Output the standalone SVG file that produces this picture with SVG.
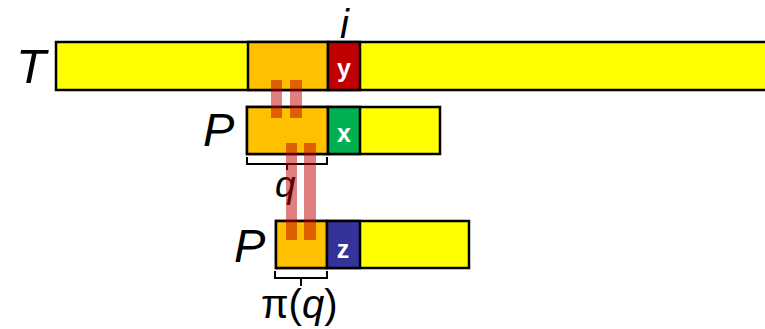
<svg xmlns="http://www.w3.org/2000/svg" width="765" height="329" viewBox="0 0 765 329">
<style>
.seg{stroke:#000;stroke-width:2.5}
.yel{fill:#FFFF00}
.org{fill:#FFC000}
.lbl{font-family:"Liberation Sans",Arial,sans-serif;font-style:italic;fill:#000}
.ch{font-family:"Liberation Sans",Arial,sans-serif;font-weight:bold;fill:#fff;font-size:25px;text-anchor:middle}
.br{fill:none;stroke:#000;stroke-width:2}
.mk{fill:#C00000;fill-opacity:0.5}
</style>
<rect width="765" height="329" fill="#fff"/>
<g id="T">
<rect class="seg yel" x="56" y="42" width="730" height="48"/>
<rect class="seg org" x="248" y="42" width="80" height="48"/>
<rect class="seg" fill="#C00000" x="328" y="42" width="32" height="48"/>
<text class="ch" x="344" y="77">y</text>
<text class="lbl" x="16" y="83" font-size="49">T</text>
<text class="lbl" x="340" y="38" font-size="40">i</text>
</g>
<g id="P1">
<rect class="seg yel" x="247" y="107" width="193" height="47"/>
<rect class="seg org" x="247" y="107" width="81" height="47"/>
<rect class="seg" fill="#00B050" x="328" y="107" width="32" height="47"/>
<text class="ch" x="344" y="142">x</text>
<text class="lbl" x="203" y="146" font-size="47">P</text>
<path class="br" d="M247,157 V164 H327 V157 M287,164 V170"/>
<text class="lbl" x="275" y="197" font-size="37">q</text>
</g>
<g id="P2">
<rect class="seg yel" x="276" y="221" width="193" height="47"/>
<rect class="seg org" x="276" y="221" width="51" height="47"/>
<rect class="seg" fill="#333399" x="327" y="221" width="33" height="47"/>
<text class="ch" x="343" y="258">z</text>
<text class="lbl" x="234" y="262" font-size="47">P</text>
<path class="br" d="M275,271 V278 H327 V271 M301,278 V286"/>
<text class="lbl" x="261" y="318" font-size="40"><tspan font-style="normal">π(</tspan>q<tspan font-style="normal">)</tspan></text>
</g>
<g id="connectors">
<rect class="mk" x="271" y="80" width="11" height="38"/>
<rect class="mk" x="290" y="80" width="12" height="38"/>
<rect class="mk" x="286" y="143" width="11" height="97"/>
<rect class="mk" x="304" y="143" width="12" height="97"/>
</g>
</svg>
